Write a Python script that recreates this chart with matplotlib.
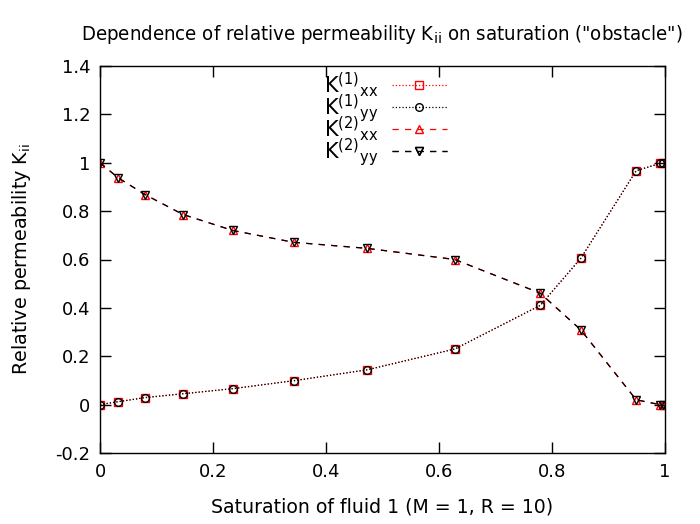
import numpy as np
import matplotlib
matplotlib.use('Agg')
import matplotlib.pyplot as plt

# saturation of fluid 1
sat = [0.0, 0.032, 0.080, 0.147, 0.235, 0.343, 0.473, 0.628, 0.779, 0.851, 0.949, 0.991, 0.996]
# relative permeabilities (xx and yy coincide)
k1_xx = [0.0, 0.012, 0.029, 0.045, 0.066, 0.099, 0.144, 0.230, 0.410, 0.605, 0.967, 0.997, 1.0]
k1_yy = [0.0, 0.012, 0.029, 0.045, 0.066, 0.099, 0.144, 0.230, 0.410, 0.605, 0.967, 0.997, 1.0]
k2_xx = [1.0, 0.938, 0.868, 0.786, 0.720, 0.671, 0.646, 0.600, 0.461, 0.309, 0.020, 0.0, 0.0]
k2_yy = [1.0, 0.938, 0.868, 0.786, 0.720, 0.671, 0.646, 0.600, 0.461, 0.309, 0.020, 0.0, 0.0]

labels = [r'K$^{(1)}$$_{\rm xx}$', r'K$^{(1)}$$_{\rm yy}$', r'K$^{(2)}$$_{\rm xx}$', r'K$^{(2)}$$_{\rm yy}$']

xticks = [0, 0.2, 0.4, 0.6, 0.8, 1]
xticklabels = ['0', '0.2', '0.4', '0.6', '0.8', '1']
yticks = [-0.2, 0, 0.2, 0.4, 0.6, 0.8, 1, 1.2, 1.4]
yticklabels = ['-0.2', '0', '0.2', '0.4', '0.6', '0.8', '1', '1.2', '1.4']

plt.rcParams['font.family'] = 'DejaVu Sans'

fig = plt.figure(figsize=(7.0, 5.24), dpi=100)
ax = fig.add_axes([100/700, 1 - 453/524, 565/700, 387/524])

ms = 5.5
l1 = ax.plot(sat, k1_xx, ls=':', lw=0.9, color='red', marker='s', ms=ms, mfc='none', mec='red', mew=1.0)[0]
l2 = ax.plot(sat, k1_yy, ls=':', lw=0.9, color='black', marker='o', ms=ms, mfc='none', mec='black', mew=1.0)[0]
l3 = ax.plot(sat, k2_xx, ls=(0, (5, 5)), lw=0.9, color='red', marker='^', ms=ms, mfc='none', mec='red', mew=1.0)[0]
l4 = ax.plot(sat, k2_yy, ls=(0, (5, 5)), lw=0.9, color='black', marker='v', ms=ms, mfc='none', mec='black', mew=1.0)[0]

ax.set_xlim(0, 1)
ax.set_ylim(-0.2, 1.4)
ax.set_xticks(xticks)
ax.set_xticklabels(xticklabels)
ax.set_yticks(yticks)
ax.set_yticklabels(yticklabels)
ax.tick_params(direction='in', top=True, right=True, length=8, width=1, labelsize=13, pad=7)
for sp in ax.spines.values():
    sp.set_linewidth(1)

ax.set_xlabel('Saturation of fluid 1 (M = 1, R = 10)', fontsize=13.6, labelpad=12)
ax.set_ylabel(r'Relative permeability K$_{\rm ii}$', fontsize=13.8, labelpad=16)
fig.text(0.545, 0.935, r'Dependence of relative permeability K$_{\rm ii}$ on saturation ("obstacle")',
         ha='center', va='center', fontsize=14.6, family='DejaVu Sans', stretch='condensed')

# gnuplot-like key: label text right-aligned, sample to its right, even row spacing
row_y = [0.948, 0.891, 0.834, 0.777]
for line, lab, y in zip([l1, l2, l3, l4], labels, row_y):
    lg = ax.legend(handles=[line], labels=[''], loc='center left', bbox_to_anchor=(0.516, y),
                   frameon=False, fontsize=15, handlelength=2.64, handletextpad=0.0,
                   borderpad=0.0, borderaxespad=0.0)
    ax.add_artist(lg)
    ax.text(0.492, y - 0.017, lab, transform=ax.transAxes, ha='right', va='baseline', fontsize=15)

fig.savefig('out.png', dpi=100)
